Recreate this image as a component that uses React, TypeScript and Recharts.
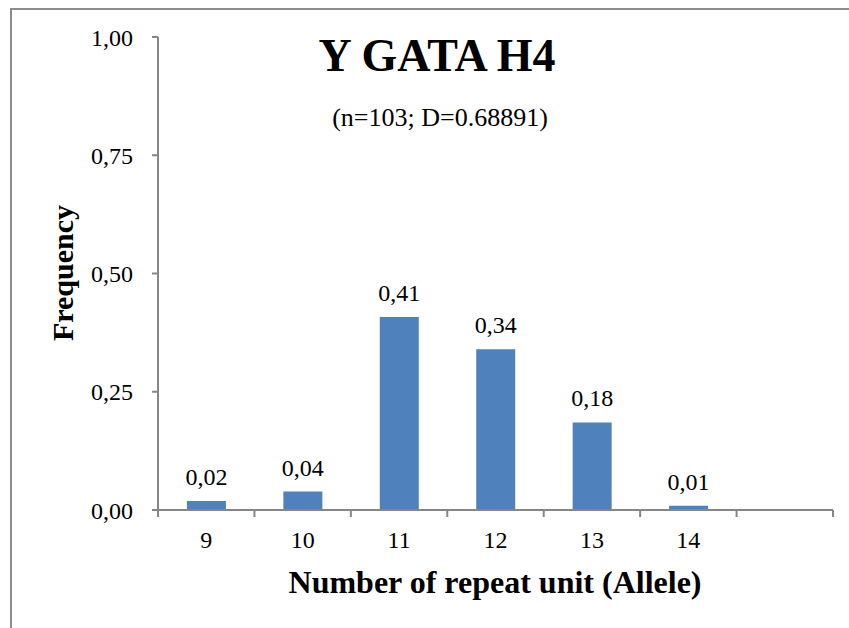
import { BarChart, Bar, XAxis, YAxis, LabelList } from "recharts";

const alleles = ["9", "10", "11", "12", "13", "14", ""];
const frequencies = [0.019, 0.039, 0.408, 0.34, 0.185, 0.009, null];
const yTicks = [0, 0.25, 0.5, 0.75, 1];

const data = alleles.map((allele, i) => ({ allele, freq: frequencies[i] }));

const fmt = (v: number) => v.toFixed(2).replace(".", ",");
const serif = '"Liberation Serif", "Times New Roman", Times, serif';
const axisColor = "#868686";
const bandHalf = 675 / alleles.length / 2;

// x tick: label at category centre, tick marks at category boundaries
function AlleleTick(props: any) {
  const { x, y, payload, index } = props;
  const last = index === alleles.length - 1;
  return (
    <g>
      <line x1={x - bandHalf} x2={x - bandHalf} y1={y - 8} y2={y - 1} stroke={axisColor} strokeWidth={2} />
      {last && (
        <line x1={x + bandHalf} x2={x + bandHalf} y1={y - 8} y2={y - 1} stroke={axisColor} strokeWidth={2} />
      )}
      <text x={x} y={y + 30} textAnchor="middle" fill="#000" fontSize={24} fontFamily={serif}>
        {payload.value}
      </text>
    </g>
  );
}

export default function App() {
  return (
    <div
      style={{
        position: "absolute",
        left: 0,
        top: 0,
        width: 849,
        height: 628,
        background: "#fff",
        overflow: "hidden",
        fontFamily: serif,
      }}
    >
      <div
        style={{
          position: "absolute",
          left: 10,
          top: 8,
          width: 860,
          height: 640,
          border: "2px solid #8c8c8c",
        }}
      />
      <BarChart
        width={849}
        height={628}
        data={data}
        barCategoryGap="30%"
        margin={{ top: 37, right: 16, left: 98, bottom: 88 }}
        style={{ position: "absolute", left: 0, top: 0 }}
      >
        <XAxis
          dataKey="allele"
          height={30}
          stroke={axisColor}
          strokeWidth={2}
          tickLine={false}
          tick={<AlleleTick />}
          interval={0}
        />
        <YAxis
          width={60}
          domain={[0, 1]}
          ticks={yTicks}
          tickFormatter={fmt}
          stroke={axisColor}
          strokeWidth={2}
          tickSize={6}
          tickLine={{ stroke: axisColor, strokeWidth: 2 }}
          tick={{ fill: "#000", fontSize: 24, fontFamily: serif }}
          tickMargin={19}
        />
        <Bar dataKey="freq" fill="#4F81BD" isAnimationActive={false}>
          <LabelList
            dataKey="freq"
            position="top"
            offset={16}
            formatter={(v: any) => (v == null ? "" : fmt(Number(v)))}
            style={{ fill: "#000", fontSize: 24, fontFamily: serif }}
          />
        </Bar>
      </BarChart>
      <svg
        width={849}
        height={628}
        style={{ position: "absolute", left: 0, top: 0, pointerEvents: "none" }}
        fontFamily={serif}
      >
        <text x={437} y={71} textAnchor="middle" fontSize={46} fontWeight="bold">
          Y GATA H4
        </text>
        <text x={440} y={126} textAnchor="middle" fontSize={26}>
          (n=103; D=0.68891)
        </text>
        <text
          x={0}
          y={0}
          transform="translate(73 273) rotate(-90)"
          textAnchor="middle"
          fontSize={30}
          fontWeight="bold"
        >
          Frequency
        </text>
        <text x={495} y={593} textAnchor="middle" fontSize={32} fontWeight="bold">
          Number of repeat unit (Allele)
        </text>
      </svg>
    </div>
  );
}
